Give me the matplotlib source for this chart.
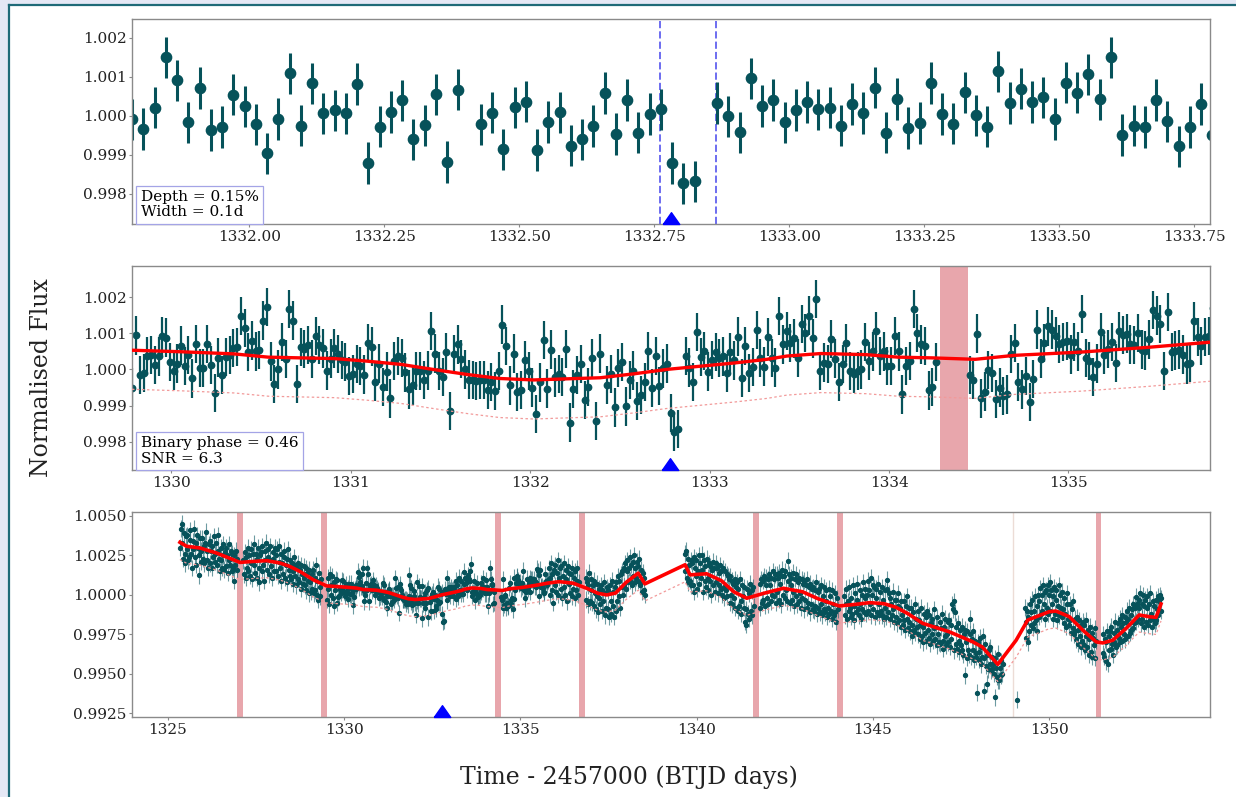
import numpy as np
import matplotlib
matplotlib.use('Agg')
import matplotlib.pyplot as plt
from matplotlib.transforms import blended_transform_factory
from matplotlib.patches import Rectangle
from matplotlib.lines import Line2D

nan = float('nan')
CADENCE = 0.0208333  # 30-min FFI cadence (days)

# ---- Raw normalised flux, stored as (flux - 1) in units of 1e-5 ----
seg_a_start = 1325.3457
seg_a = [300, 420, 452, 330, 230, 390, 260, 200, 370, 290,
         380, 220, 240, 350, 410, 260, 170, 340, 290, 420,
         240, 330, 190, 380, 300, 250, 123, 360, 280, 210,
         360, 230, 310, 200, 330, 400, 220, 280, 170, 320,
         200, 340, 280, 170, 310, 240, 370, 210, 260, 330,
         190, 280, 380, 230, 150, 300, 220, 170, 320, 250,
         160, 270, 300, 180, 250, 140, 320, 220, 190, 280,
         150, 260, 170, 90, 250, 190, 280, 160, 230,
         *[nan] * 7,
         220, 130, 270, 110, 240, 170, 300, 150, 250, 120, 290, 200, 100, 260,
         190, 325, 140, 260, 110, 230, 300, 170, 80, 250,
         270, 150, 310, 190, 90, 280, 220, 330, 160, 240,
         290, 130, 220, 310, 180, 110, 270, 230, 150, 300,
         150, 250, 290, 120, 210, 310, 170, 90, 260, 200,
         130, 240, 280, 110, 190, 230, 80, 290, 160, 120,
         220, 100, 200, 150, 70, 240, 120, 190, 60, 170,
         100, 200, 80, 160, 40, 190, 130, 70, 180, 110,
         60, 170, 30, 140, 90, 10, 160, 80, 20, 130,
         40, 160, 10, 110, 30, 190, 0, 90, -30, 140, 50, -10, 100,
         *[nan] * 7,
         -30, 110, 40, -60, 130, 60, 0, 120, -20, 80, -70, 30, 100]

seg_b_start = 1329.7832
seg_b = [-50, 94, -16, -9, 38, 40, 12, 36, 93, 88,
         20, -5, 16, 66, 10, 40, -25, 70, 4, 4,
         70, 12, -66, 33, -15, 35, 40, 60, 62, 148,
         115, 48, 80, 50, 54, 135, 172, 22, -40, 0,
         75, 28, 168, 135, -40, 62, 56, 68, 28, 93,
         68, 58, -3, 30, 58, 43, 27, 20, -18, -12,
         15, 10, -14, 73, 63, -34, 16, -48, -6, -80,
         24, 38, 31, -8, -55, -44, -5, -5, -30, -3,
         107, 44, -5, -20, 48, -115, 43, 69, 28, 0,
         -28, -29, -32, -29, -30, -57]

seg_c_start = 1331.7832
seg_c = [-35, -60, -5, 124, 64, -44, 44, -63, -56, 26,
         -4, -50, -124, -36, 81, -53, 55, -22, -13, -21,
         56, -147, -54, -16, 15, -85, -49, 31, -142, 44,
         nan, -43, -12, -105, 4, 20, -102, -29, -3, -87,
         -70, -34, 51, -52, 37, -46, 3, 16, -121, -172,
         -165, nan, 38, 5, -35, 104, 34, 51, -6, 27,
         48, 31, 36, -9, 47, 25, 91, -23, 64, -9,
         6, 109, 32, 8, 90, 32, 5, 148, 69, 107,
         73, 86, 32, 126, 101, 149, 86, 194, -5, 19,
         15, 85, 30, -34, 15, 73, -5]

seg_d_start = 1333.8040
seg_d = [-12, -5, 0, 76, 23, 50, 107, 37, 50, 9,
         9, 92, 50, -69, 9, 23, 168, 101, 69, 64,
         -58, -49, 21, nan, nan, nan, nan, nan, nan, nan,
         nan, -16, -30, 99, -80, -61, -2, -9, -81, -50,
         -73, -69, 43, 73, -35, -55, -18, -90, -26, 110,
         30, 73, 119, 110, 92, 71, 76, 78, 41, 76,
         50, 154, 32, 23, -21, 16, 103, 41, 57, 76,
         18, 107, 96, 99, 69, 67, 101, 55, 52, 83,
         165, 149, 126, -5, 159, 48, 52, 55, 41, 14,
         18, 133, 89, 64, 89, 92]

seg_e_start = 1335.8040
seg_e = [170, 0, 110, 200, 30, 130, -50, 160, 60, 190,
         20, 140, 220, 0, 110, 170, 40, 180, -20, 120,
         200, 50, 0, 160, 100, -40, 180, 70, 140, 10,
         130, -10, 170, 40, 110, -20, 150, 30, 90, 170, 0, 80,
         *[nan] * 8,
         110, -30, 80, -60, 60, 140, -40, 30, 100, -50,
         60, -70, 90, 10, -90, 70, -10, -110, 40, -20,
         -60, 60, -100, 30, -40, 80, -130, 10, -80, 50,
         -90, 30, -140, 60, -40, -120, 90, -70, 20, -138,
         50, -100, 80, -40, 120, -10, 90, -80, 130, 50,
         150, 0, 170, 60, 200, 40, 150, 220, 80, 170,
         240, 90, 190, 60, 210, 120, 250, 80, 170, 110,
         210, 90, 180, 230, 60, 160, 80, 20, 140, 30, 110, 0]

seg_f_start = 1339.6600
seg_f = [260, 150, 280, 110, 230, 80, 190, 90, 220, 60,
         200, 60, 240, 20, 170, 120, 220, 40, 150, 250,
         70, 200, 110, 255, 160, 20, 220, 90, 180, 50,
         230, 110, 30, 200, 90, 180, 0, 160, 210, 60,
         170, 20, 200, 80, 170, 10, 140, 60, 190, 40,
         150, 0, 170, 50, -20, 150, 30, 130, -10, 120,
         100, -50, 120, 0, 90, -60, 70, -20, -80, 100,
         50, 80, -100, 40, -70, 100, -40, -120, 60, -10,
         -80, 50, -170, -190, -90, 40, -120, 10, -150, 70,
         -100, 30, -130, 50, -70,
         *[nan] * 7,
         70, -80, 100, -50, 90, -30, 120, -70, 60, 110,
         -20, 100, -60, 130, 60, -40, 110, 0, 150, -10,
         100, 130, -50, 130, 20, 110, -30, 140, 70, -60, 120, 160, 0,
         120, -20, 150, 30, -40, 217, 90, 130, -50, 60,
         110, -30, 140, 20, -70, 100, -10, 130, -60, 80,
         -40, 110, 10, -80, 100, -20, 70, -90, 90, -30,
         60, -80, 100, -50, 50, -110, 70, -60, 40, -90,
         50, -100, 30, -70, 80, -120, 20, -80, 40, -110,
         -60, 60, -130, -10, -90, 50, -110, -40, 30, -140,
         -80, 40, -120, -10, -100, 30, -150, -60, -130, 10, -110, -170, -20, -90,
         *[nan] * 8,
         -10, -130, -60, 40, -150, -40, -100, 50, -80, -140,
         -20, -120, 60, -70, -160, 10, -110, -30, 70, -90,
         -130, 30, -60, -150, 0, -90, 80, -110, -20, 40,
         -120, 0, 90, -100, 30, -60, 109, -130, 0, 60,
         -90, 50, -140, -20, 40, -110, 70, -60, -130, 20,
         -100, 50, -130, -30, -150, 30, -80, -140, 96, 40,
         -110, 10, -150, -20, -60, -130, 20, -90, -170, -30,
         -140, -30, -180, -70, 10, -160, -80, -200, -40, -130,
         -190, -40, -160, -220, -70, -150, -10, -210, -170, -80,
         -230, -80, -190, -260, -110, -220, -60, -240, -150, -200,
         -100, -250, -160, -280, -190, -80, -260, -200, -300, -120,
         -240, -140, -290, -100, -220, -270, -130, -310, -180, -250,
         -150, -290, -210, -90, -280, -200, -320, -140, -250, -300,
         -170, -310, -210, -120, -290, -340, -200, -260, -150, -320,
         -250, -170, -300, -160, -330, -190, -280, -60, -90, -350,
         -40, -110, -310, -200, -340, -180, -290, -360, -220, -320,
         -350, -200, -380, -250, -220, -510, -300, -400, -230, -350,
         -380, -250, -150, -390, -280, -350, -230, -410, -290, -370,
         -390, -620, -300, -360, -410, -270, -440, -330, -390, -260,
         -400, -609, -310, -450, -563, -380, -470, -350, -330, -440,
         -480, -390, -467, -440, -500, -400, -648, -460, -520, -372,
         -540, -541, -460, -510, -420, -500, -440,
         *[nan] * 19,
         -664,
         *[nan] * 9,
         -80, -270, -170, -100, -300, -140, -230, -60, -190, -110,
         -30, -210, -100, -180, -10, -160, -70, -230, 0, -140,
         -40, 42, -120, 0, -100, 60, -60, 20, -150, 30,
         -80, 60, -120, 0, 80, -100, 30, -60, -150, -10,
         50, -120, -30, 30, -160, -70, 60, -130, 0, -80,
         -140, 20, -90, -180, -20, -120, -200, -60, 10, -150,
         -190, -60, -160, -240, -90, -210, -40, -250, -150, -230,
         -280, -140, -220, -310, -160, -260, -330, -190, -290, -170,
         -320, -190, -350, -260, -160, -330, -220, -380, -280, -200,
         -360, -240, -390, -270, -320, -210, -400, -290,
         *[nan] * 8,
         -370, -250, -390, -280, -420, -300, -230, -435, -260, -350,
         -230, -340, -200, -310, -380, -240, -300, -170, -330, -220,
         -320, -180, -270, -150, -300, -200, -130, -290, -180, -250,
         -140, -280, -170, -100, -260, -150, -80, -240, -130, -220,
         -90, -210, -60, -180, -80, -11, -170, -60, -150, -32,
         -80, 10, -180, -60, -150, 0, -200, -70, -30, -170,
         -80, -10, -190, -60, -160, 10, -120, -200, -40, -150,
         -70, -180, -30, -160, -90, -10, -130, -40, 0, -100, -20]

# ---- Detrended flux shown in the zoomed top panel ((flux - 1) * 1e5) ----
zoom_start = 1331.7832
zoom_detrended = [-9, -34, 21, 150, 91, -17, 71, -36, -29, 54,
                  24, -22, -96, -8, 109, -25, 83, 6, 14, 6,
                  82, -121, -28, 10, 40, -60, -24, 55, -118, 67,
                  nan, -22, 8, -86, 22, 36, -87, -16, 9, -76,
                  -60, -26, 58, -47, 41, -43, 5, 17, -121, -173,
                  -168, nan, 33, -1, -42, 96, 25, 41, -17, 15,
                  35, 17, 21, -25, 30, 7, 72, -43, 43, -31,
                  -18, 84, 5, -20, 60, 1, -28, 114, 33, 70,
                  35, 47, -8, 85, 59, 106, 42, 150, -49, -25,
                  -29, 41, -14, -78, -29, 30, -48]

flux_err = 0.00053

# ---- Trend model (red line), (flux - 1) * 1e5 ----
trend_t = [1325.34, 1325.53, 1325.91, 1326.38, 1326.85, 1327.04, 1327.42, 1327.80,
           1328.18, 1328.46, 1328.74, 1329.12, 1329.50, 1329.79, 1330.05, 1330.35,
           1330.54, 1330.72, 1330.91, 1331.09, 1331.28, 1331.46, 1331.65, 1331.83,
           1332.02, 1332.20, 1332.39, 1332.58, 1332.76, 1332.95, 1333.14, 1333.32,
           1333.43, 1333.62, 1333.87, 1334.05, 1334.24, 1334.48, 1334.70, 1335.07,
           1335.44, 1335.78, 1336.10, 1336.50, 1336.90, 1337.20, 1337.45, 1337.70,
           1338.00, 1338.34, 1338.53, 1339.67, 1339.81, 1340.28, 1340.70, 1341.05,
           1341.42, 1341.90, 1342.46, 1343.00, 1343.45, 1344.04, 1344.50, 1344.90,
           1345.30, 1345.65, 1346.00, 1346.41, 1347.16, 1347.83, 1348.10, 1348.54,
           1349.06, 1349.39, 1350.00, 1350.19, 1350.57, 1350.95, 1351.33, 1351.52,
           1351.80, 1352.18, 1352.55, 1352.84, 1353.03, 1353.17]
trend_v = [333, 308, 297, 265, 223, 206, 212, 217,
           202, 180, 149, 96, 57, 53, 49, 43,
           34, 32, 30, 23, 14, 0, -14, -25,
           -29, -26, -23, -12, 0, 9, 18, 28,
           37, 44, 41, 34, 32, 28, 39, 48,
           61, 75, 84, 74, 40, 10, 0, 12,
           80, 138, 70, 191, 127, 134, 90, 20,
           -21, 10, 42, 20, -25, -70, -60, -49,
           -55, -78, -120, -180, -233, -297, -330, -440,
           -287, -159, -106, -102, -138, -223, -297, -304,
           -287, -212, -127, -138, -142, -57]
threshold_offset = 108  # dotted line below the trend, 1e-5 units

# ---- Event annotations ----
t0 = 1332.781
transit_window = (1332.760, 1332.864)
eclipse_times = [1327.04, 1329.43, 1334.36, 1336.74, 1341.68, 1344.06, 1351.39]
eclipse_width = 0.155
gap_eclipse = 1348.96
box_top = "Depth = 0.15%\nWidth = 0.1d"
box_mid = "Binary phase = 0.46\nSNR = 6.3"

# ------------------------------------------------------------------
def build(start, vals):
    v = np.array(vals, dtype=float)
    return start + CADENCE * np.arange(len(v)), 1.0 + v * 1e-5

parts = [build(seg_a_start, seg_a), build(seg_b_start, seg_b), build(seg_c_start, seg_c),
         build(seg_d_start, seg_d), build(seg_e_start, seg_e), build(seg_f_start, seg_f)]
time = np.concatenate([p[0] for p in parts])
flux = np.concatenate([p[1] for p in parts])
zt, zf = build(zoom_start, zoom_detrended)
tt = np.array(trend_t)
tv = 1.0 + np.array(trend_v) * 1e-5
tv_low = 1.0 + (np.array(trend_v) - threshold_offset) * 1e-5

plt.rcParams['font.family'] = ['DejaVu Serif']
plt.rcParams['axes.edgecolor'] = '#8a8a8a'
plt.rcParams['axes.linewidth'] = 1.0

W, H = 1236, 797
fig = plt.figure(figsize=(W / 100, H / 100), dpi=100)
fig.patch.set_facecolor('white')

def axbox(l, t, r, b):
    return [l / W, 1 - b / H, (r - l) / W, (b - t) / H]

ax1 = fig.add_axes(axbox(132, 19, 1210, 224))
ax2 = fig.add_axes(axbox(132, 266, 1210, 470))
ax3 = fig.add_axes(axbox(132, 512, 1210, 717))

PT = '#06525a'
tri = [(-0.7, 0.0), (0.7, 0.0), (0.0, 1.0), (-0.7, 0.0)]

def style(ax):
    ax.tick_params(length=2.5, width=0.8, color='#8a8a8a', labelsize=11, pad=1.5,
                   labelcolor='#222222')
    for s in ax.spines.values():
        s.set_color('#8a8a8a')

def triangle(ax):
    tr = blended_transform_factory(ax.transData, ax.transAxes)
    ax.plot([t0], [0.0], marker=tri, ms=17, color='blue', transform=tr,
            clip_on=False, zorder=6, linestyle='none')

# Top panel
ax1.errorbar(zt, zf, yerr=flux_err, fmt='o', ms=7.4, color=PT, ecolor=PT,
             elinewidth=2.2, capsize=0, zorder=2)
for x in transit_window:
    ax1.axvline(x, color='#6c6cf0', ls='--', lw=1.4, zorder=1)
ax1.set_xlim(t0 - 0.998, t0 + 0.998)
ax1.set_ylim(0.99723, 1.00248)
ax1.set_xticks(np.arange(1332.0, 1333.76, 0.25))
ax1.set_xticklabels([f"{v:.2f}" for v in np.arange(1332.0, 1333.76, 0.25)])
ax1.set_yticks([0.998, 0.999, 1.000, 1.001, 1.002])
ax1.set_yticklabels([f"{v:.3f}" for v in [0.998, 0.999, 1.000, 1.001, 1.002]])
style(ax1)
triangle(ax1)
ax1.text(0.008, 0.022, box_top, transform=ax1.transAxes, fontsize=11, va='bottom',
         ha='left', linespacing=1.1,
         bbox=dict(boxstyle='square,pad=0.28', fc='white', ec='#a4a4e6', lw=0.9), zorder=5)

# Middle panel
for e in eclipse_times:
    ax2.axvspan(e - eclipse_width / 2, e + eclipse_width / 2, color='#e8a6ac', lw=0, zorder=0)
ax2.errorbar(time, flux, yerr=flux_err, fmt='o', ms=4.6, color=PT, ecolor=PT,
             elinewidth=1.6, capsize=0, zorder=2)
ax2.plot(tt, tv, color='#ff0000', lw=2.4, zorder=3)
ax2.plot(tt, tv_low, color='#f29a9a', lw=0.9, ls=(0, (2, 2)), zorder=3)
ax2.set_xlim(t0 - 3.0, t0 + 3.008)
ax2.set_ylim(0.99722, 1.00286)
ax2.set_xticks(np.arange(1330, 1336))
ax2.set_yticks([0.998, 0.999, 1.000, 1.001, 1.002])
ax2.set_yticklabels([f"{v:.3f}" for v in [0.998, 0.999, 1.000, 1.001, 1.002]])
style(ax2)
triangle(ax2)
ax2.text(0.008, 0.022, box_mid, transform=ax2.transAxes, fontsize=11, va='bottom',
         ha='left', linespacing=1.1,
         bbox=dict(boxstyle='square,pad=0.28', fc='white', ec='#a4a4e6', lw=0.9), zorder=5)

# Bottom panel
for e in eclipse_times:
    ax3.axvspan(e - eclipse_width / 2, e + eclipse_width / 2, color='#e8a6ac', lw=0, zorder=0)
ax3.axvline(gap_eclipse, color='#ecdcd6', lw=1.0, zorder=0)
ax3.errorbar(time, flux, yerr=flux_err, fmt='none', ecolor=(0.12, 0.40, 0.44, 0.65),
             elinewidth=0.8, capsize=0, zorder=2)
ax3.plot(time, flux, 'o', ms=2.8, color=PT, zorder=2, linestyle='none')
ax3.plot(tt, tv, color='#ff0000', lw=2.6, zorder=3)
ax3.plot(tt, tv_low, color='#f29a9a', lw=0.9, ls=(0, (2, 2)), zorder=3)
ax3.set_xlim(1323.98, 1354.56)
ax3.set_ylim(0.99227, 1.00525)
ax3.set_xticks([1325, 1330, 1335, 1340, 1345, 1350])
bt = [0.9925, 0.9950, 0.9975, 1.0000, 1.0025, 1.0050]
ax3.set_yticks(bt)
ax3.set_yticklabels([f"{v:.4f}" for v in bt])
style(ax3)
triangle(ax3)

fig.text(42 / W, 1 - 378 / H, 'Normalised Flux', rotation=90, fontsize=17,
         ha='center', va='center', color='#222222')
fig.text(629 / W, 1 - 777 / H, 'Time - 2457000 (BTJD days)', fontsize=17,
         ha='center', va='center', color='#222222')

# page frame
fig.add_artist(Rectangle((0, 0), 7.5 / W, 1, transform=fig.transFigure,
                         color='#e5e8f5', lw=0, zorder=-5))
fig.add_artist(Rectangle((0, 1 - 3.5 / H), 1, 3.5 / H, transform=fig.transFigure,
                         color='#e5e8f5', lw=0, zorder=-5))
fig.add_artist(Line2D([8.5 / W, 8.5 / W], [0, 1 - 4.5 / H], transform=fig.transFigure,
                      color='#1f6a78', lw=1.6))
fig.add_artist(Line2D([8.5 / W, 1], [1 - 4.5 / H, 1 - 4.5 / H], transform=fig.transFigure,
                      color='#1f6a78', lw=1.6))

fig.savefig('out.png', dpi=100, facecolor=fig.get_facecolor())
